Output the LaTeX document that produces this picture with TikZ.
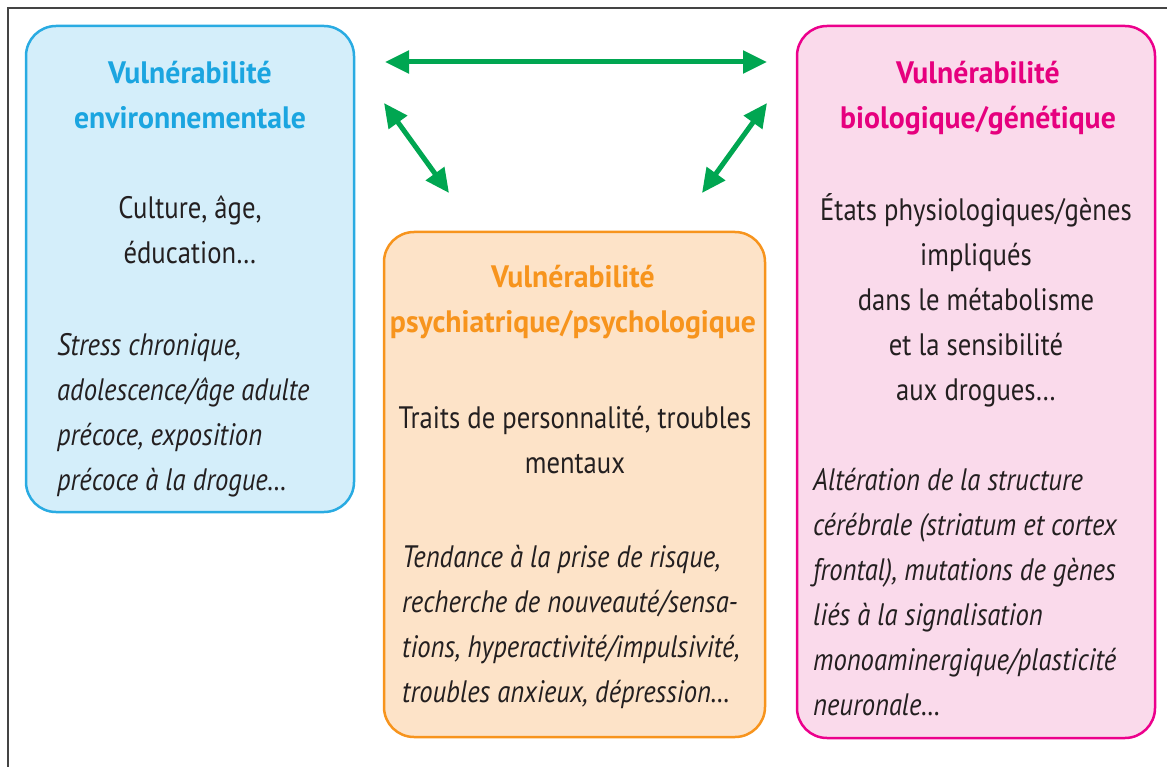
\documentclass[tikz,border=0pt]{standalone}
\usepackage{fontspec}
\setmainfont{PT Sans}[FakeStretch=0.86]
\newfontfamily\ttlfont{PT Sans}[FakeStretch=0.96]
\usetikzlibrary{arrows.meta}
\definecolor{bluefill}{HTML}{D4EEFA}
\definecolor{blueline}{HTML}{29ABE2}
\definecolor{bluetitle}{HTML}{1BA5E0}
\definecolor{orangefill}{HTML}{FDE3C8}
\definecolor{orangeline}{HTML}{F7941D}
\definecolor{pinkfill}{HTML}{FADAEB}
\definecolor{pinkline}{HTML}{EC008C}
\definecolor{pinktitle}{HTML}{E6007E}
\definecolor{textdark}{HTML}{231F20}
\definecolor{arrowgreen}{HTML}{00A651}
\definecolor{framegray}{HTML}{444444}
\tikzset{
  vbox/.style={rounded corners=30pt, line width=2.5pt},
  txt/.style={inner sep=0pt, font=\fontsize{31}{45}\selectfont, text=textdark},
  ttl/.style={txt, font=\fontsize{31}{45}\selectfont\ttlfont\bfseries, align=center, anchor=base},
  body/.style={txt, align=center, anchor=base},
  ital/.style={txt, font=\fontsize{31}{45}\selectfont\itshape, align=left, anchor=base west},
  garrow/.style={arrowgreen, line width=5pt, {Triangle[length=24pt,width=22pt]}-{Triangle[length=24pt,width=22pt]}}
}
\begin{document}
\begin{tikzpicture}[x=1pt,y=-1pt]
\useasboundingbox (0,0) rectangle (1167,767);
% frame
\draw[framegray, line width=2.5pt] (8,767) -- (8,8) -- (1167,8);
% boxes
\draw[vbox, draw=blueline, fill=bluefill] (26,26) rectangle (354,512);
\draw[vbox, draw=orangeline, fill=orangefill] (384,232) rectangle (765,737);
\draw[vbox, draw=pinkline, fill=pinkfill] (797,26) rectangle (1155,738);
% blue texts (anchor = baseline of last line)
\node[ttl, text=bluetitle] (envT) at (190,129) {Vulnérabilité\\environnementale};
\node[body] (envB) at (190,264) {Culture, âge,\\éducation…};
\node[ital] (envI) at (57,490) {Stress chronique,\\adolescence/âge adulte\\précoce, exposition\\précoce à la drogue…};
% orange texts
\node[ttl, text=orangeline] (psyT) at (573,332) {Vulnérabilité\\psychiatrique/psychologique};
\node[body] (psyB) at (575,473) {Traits de personnalité, troubles\\mentaux};
\node[ital] (psyI) at (402,702) {Tendance à la prise de risque,\\recherche de nouveauté/sensa-\\tions, hyperactivité/impulsivité,\\troubles anxieux, dépression…};
% pink texts
\node[ttl, text=pinktitle] (bioT) at (978,129) {Vulnérabilité\\biologique/génétique};
\node[body] (bioB) at (976,400) {États physiologiques/gènes\\impliqués\\dans le métabolisme\\et la sensibilité\\aux drogues…};
\node[ital] (bioI) at (813,715) {Altération de la structure\\cérébrale (striatum et cortex\\frontal), mutations de gènes\\liés à la signalisation\\monoaminergique/plasticité\\neuronale…};
% arrows
\coordinate (h1) at (385,62);
\coordinate (h2) at (767,62);
\coordinate (l1) at (384,103);
\coordinate (l2) at (449,193);
\coordinate (r1) at (767,103);
\coordinate (r2) at (702,193);
\draw[garrow] (h1) -- (h2);
\draw[garrow] (l1) -- (l2);
\draw[garrow] (r1) -- (r2);
\end{tikzpicture}
\end{document}
